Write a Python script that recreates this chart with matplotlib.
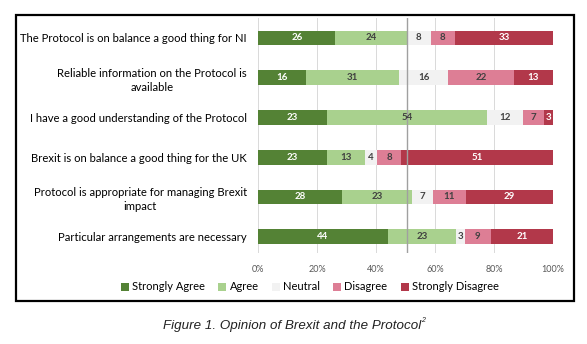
import numpy as np
import matplotlib
matplotlib.use('Agg')
import matplotlib.pyplot as plt
from matplotlib.patches import Rectangle

plt.rcParams['font.family'] = ['Lato', 'DejaVu Sans']

# data
questions = ['The Protocol is on balance a good thing for NI',
             'Reliable information on the Protocol is\navailable',
             'I have a good understanding of the Protocol',
             'Brexit is on balance a good thing for the UK',
             'Protocol is appropriate for managing Brexit\nimpact',
             'Particular arrangements are necessary']
strongly_agree = [26, 16, 23, 23, 28, 44]
agree = [24, 31, 54, 13, 23, 23]
neutral = [8, 16, 12, 4, 7, 3]
disagree = [8, 22, 7, 8, 11, 9]
strongly_disagree = [33, 13, 3, 51, 29, 21]
series_names = ['Strongly Agree', 'Agree', 'Neutral', 'Disagree', 'Strongly Disagree']
colors = ['#548235', '#a9d18e', '#f2f2f2', '#dd7e95', '#b2384a']
text_colors = ['white', '#404040', '#404040', '#404040', 'white']
xticks = [0, 20, 40, 60, 80, 100]

series = np.array([strongly_agree, agree, neutral, disagree, strongly_disagree], dtype=float)
shares = series / series.sum(axis=0) * 100  # excel-like 100% stacked

fig = plt.figure(figsize=(5.87, 3.44), dpi=100)
W, H = 587, 344
ax = fig.add_axes([258 / W, 1 - 253 / H, (553 - 258) / W, (253 - 18) / H])

y = np.arange(len(questions))
left = np.zeros(len(questions))
handles = []
for i, name in enumerate(series_names):
    b = ax.barh(y, shares[i], left=left, height=0.37, color=colors[i], label=name, zorder=2)
    handles.append(b)
    for j in range(len(questions)):
        ax.text(left[j] + shares[i][j] / 2, y[j], f'{int(series[i][j])}', ha='center', va='center',
                fontsize=7, fontweight='bold', color=text_colors[i], zorder=4)
    left += shares[i]

ax.axvline(50.5, color='#a0a0a0', linewidth=1, zorder=3)

ax.set_xlim(0, 100)
ax.set_ylim(5.41, -0.5)
ax.set_xticks(xticks)
ax.set_xticklabels([f'{t}%' for t in xticks], fontsize=6.5, color='#595959')
ax.set_yticks(y)
ax.set_yticklabels(questions, fontsize=8.15, color='black', multialignment='center', linespacing=1.35)
ax.tick_params(length=0, pad=8)
ax.tick_params(axis='x', pad=9)
ax.xaxis.grid(True, color='#d9d9d9', linewidth=0.7, zorder=0)
for s in ax.spines.values():
    s.set_visible(False)

fig.legend(handles=handles, labels=series_names, loc='center', bbox_to_anchor=(310 / W, 1 - 287 / H),
           ncol=5, frameon=False, fontsize=8.0, handlelength=0.7, handleheight=0.7,
           handletextpad=0.3, columnspacing=1.2)

# frame round the chart
fig.patches.append(Rectangle((16 / W, 1 - 301 / H), (574 - 16) / W, (301 - 15) / H,
                             transform=fig.transFigure, fill=False, edgecolor='black', linewidth=1.6))

fig.text(292 / W, 1 - 326 / H, 'Figure 1. Opinion of Brexit and the Protocol',
         ha='center', va='center', fontsize=9.6, style='italic', family='Liberation Sans', color='#222222')
fig.text(421 / W, 1 - 321 / H, '2', ha='left', va='center', fontsize=5, style='italic',
         family='Liberation Sans', color='#222222')

plt.savefig('out.png', dpi=100)
